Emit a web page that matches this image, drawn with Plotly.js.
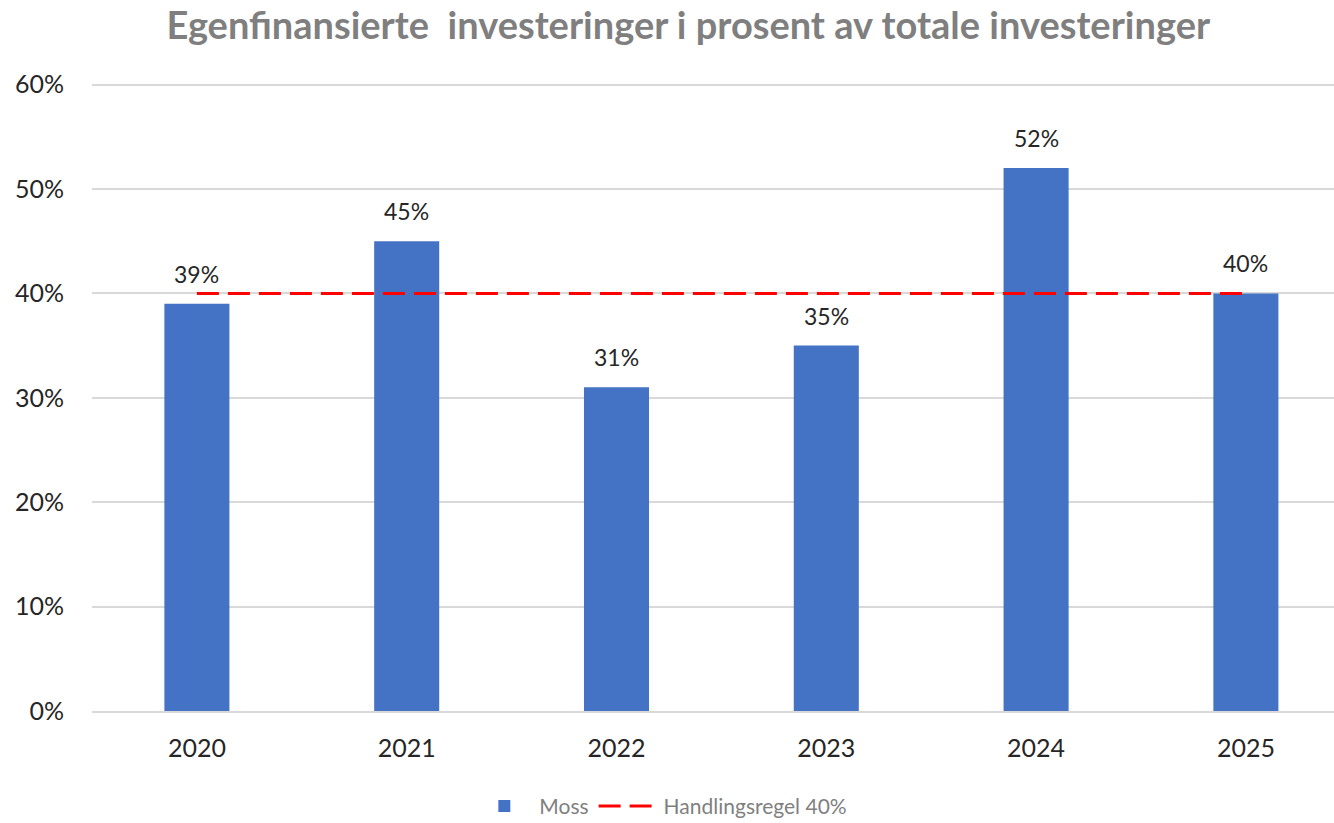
<!DOCTYPE html>
<html>
<head>
<meta charset="utf-8">
<script src="https://cdn.plot.ly/plotly-3.0.1.min.js"></script>
<style>html,body{margin:0;padding:0;background:#fff;}#chart{width:1334px;height:823px;}</style>
</head>
<body>
<div id="chart"></div>
<script>
const years = ["2020", "2021", "2022", "2023", "2024", "2025"];
const moss = [0.39, 0.45, 0.31, 0.35, 0.52, 0.40];
const rule = [0.40, 0.40, 0.40, 0.40, 0.40, 0.40];
const labels = ["39%", "45%", "31%", "35%", "52%", "40%"];
const yTicks = [0, 0.1, 0.2, 0.3, 0.4, 0.5, 0.6];
const yTickText = ["0%", "10%", "20%", "30%", "40%", "50%", "60%"];

const FONT = "Lato, 'Open Sans', sans-serif";

const traces = [
  {
    type: "bar", name: "Moss", x: years, y: moss,
    marker: {color: "#4472C4"}, width: 0.31, hoverinfo: "skip"
  },
  {
    type: "scatter", mode: "lines", name: "Handlingsregel 40%", x: years, y: rule,
    line: {color: "#FF0000", width: 3, dash: "22px,9px"}, hoverinfo: "skip"
  }
];

const annotations = years.map((yr, i) => ({
  x: i, y: moss[i], xref: "x", yref: "y", text: labels[i], showarrow: false,
  yanchor: "bottom", yshift: 14, font: {family: FONT, size: 23, color: "#262626"}
}));

const layout = {
  width: 1334, height: 823,
  margin: {l: 92, r: 0, t: 83, b: 112, autoexpand: false},
  paper_bgcolor: "#fff", plot_bgcolor: "#fff",
  title: {text: "<b>Egenfinansierte  investeringer i prosent av totale investeringer</b>",
    x: 0.516, xanchor: "center", y: 0.969, yanchor: "middle",
    font: {family: FONT, size: 38, color: "#7F7F7F"}},
  xaxis: {type: "category", range: [-0.5, 5.42], showgrid: false, showline: true,
    linecolor: "#D9D9D9", linewidth: 2, ticks: "", ticklabelstandoff: 14,
    tickfont: {family: FONT, size: 25, color: "#262626"}, fixedrange: true},
  yaxis: {range: [0, 0.6015], tickvals: yTicks, ticktext: yTickText, showgrid: true,
    gridcolor: "#D9D9D9", gridwidth: 2, zeroline: false, showline: false, ticks: "",
    ticklabelstandoff: 27, tickfont: {family: FONT, size: 25, color: "#262626"}, fixedrange: true},
  showlegend: true,
  legend: {orientation: "h", x: 0.458, xanchor: "center", y: -0.152, yanchor: "middle",
    font: {family: FONT, size: 21, color: "#7F7F7F"}, itemwidth: 60},
  annotations: annotations,
  bargap: 0.69
};

Plotly.newPlot("chart", traces, layout, {displayModeBar: false, staticPlot: true});
</script>
</body>
</html>
